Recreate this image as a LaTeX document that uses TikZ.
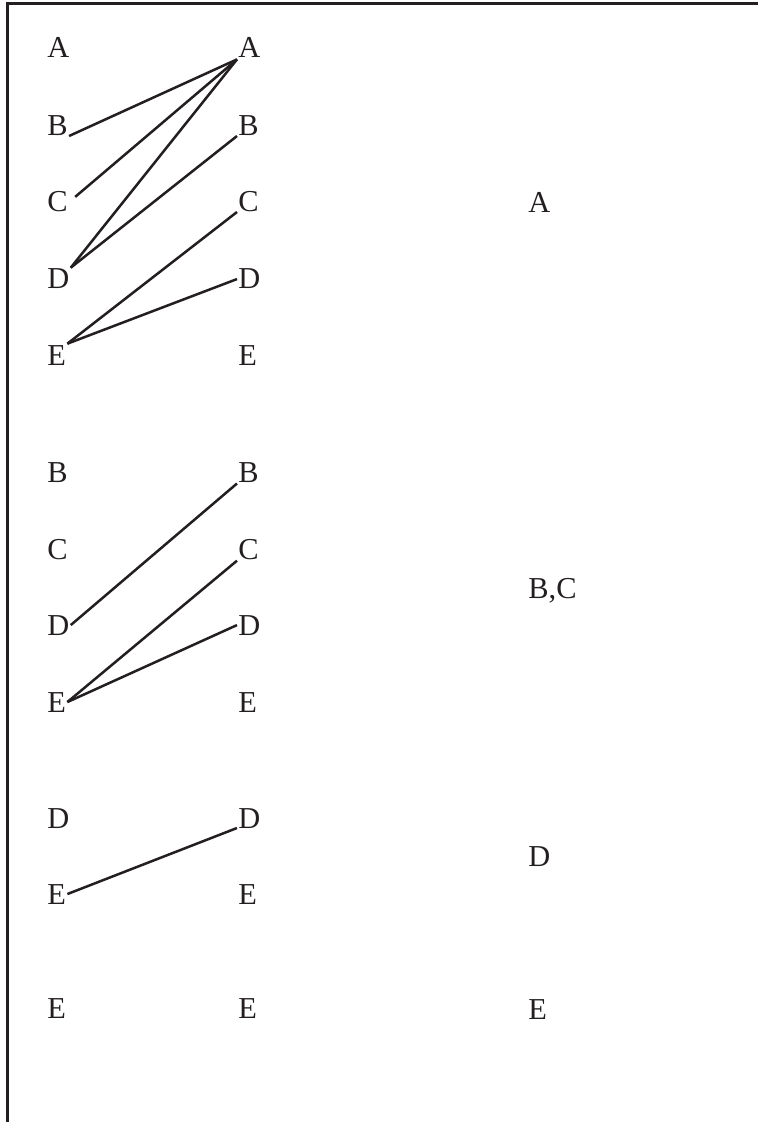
\documentclass[tikz,border=0pt]{standalone}
\usepackage{fontspec}
\setmainfont{Liberation Serif}
\definecolor{ink}{HTML}{231F20}

\begin{document}
\begin{tikzpicture}[x=.5pt,y=-.5pt,lt/.style={anchor=base west,inner sep=.5pt,text=ink,font=\fontsize{15.2}{17}\selectfont},ln/.style={draw=ink,line width=1.25pt}]
\useasboundingbox(0,0)rectangle(758,1122);
\draw[ink,line width=1.5pt](758,3.5)--(7,3.5)--(7,1122);
% first block: A..E against A..E
\node[lt](lA1)at(46,58){A};\node[lt](lB1)at(46,136){B};\node[lt](lC1)at(46,212){C};\node[lt](lD1)at(46,289){D};\node[lt](lE1)at(46,365){E};
\node[lt](rA1)at(237,58){A};\node[lt](rB1)at(237,136){B};\node[lt](rC1)at(237,212){C};\node[lt](rD1)at(237,289){D};\node[lt](rE1)at(237,365){E};
\draw[ln](lB1.base east)--(rA1.south west);\draw[ln,shorten <=4pt](lC1.east)--(rA1.south west);\draw[ln](lD1.north east)--(rA1.south west);
\draw[ln](lD1.north east)--(rB1.base west);\draw[ln](lE1.north east)--(rC1.base west);\draw[ln](lE1.north east)--(rD1.west);
% second block
\node[lt](lB2)at(46,482){B};\node[lt](lC2)at(46,559){C};\node[lt](lD2)at(46,635){D};\node[lt](lE2)at(46,712){E};
\node[lt](rB2)at(237,482){B};\node[lt](rC2)at(237,559){C};\node[lt](rD2)at(237,635){D};\node[lt](rE2)at(237,712){E};
\draw[ln](lD2.east)--(rB2.south west);\draw[ln](lE2.east)--(rC2.south west);\draw[ln](lE2.east)--(rD2.west);
% third and last block
\node[lt](lD3)at(46,828){D};\node[lt](lE3)at(46,904){E};\node[lt](rD3)at(237,828){D};\node[lt](rE3)at(237,904){E};
\draw[ln](lE3.east)--(rD3.base west);
\node[lt](lE4)at(46,1018){E};\node[lt](rE4)at(237,1018){E};
% results
\node[lt](s1)at(527,213){A};\node[lt](s2)at(527,598){B,C};\node[lt](s3)at(527,866){D};\node[lt](s4)at(527,1019){E};
\end{tikzpicture}
\end{document}
